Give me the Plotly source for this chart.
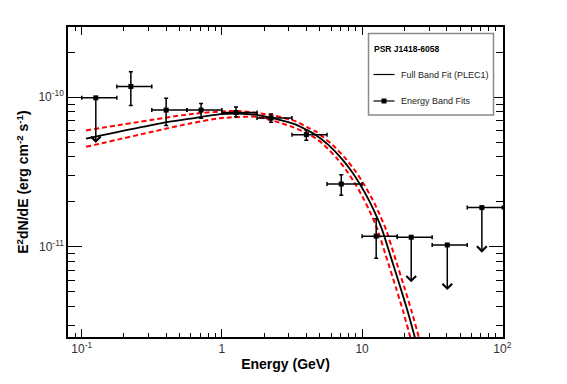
import numpy as np
import plotly.graph_objects as go

# ---------------- data ----------------
energy = [0.126, 0.224, 0.40, 0.71, 1.26, 2.24, 4.0, 7.1, 12.6, 22.4, 40.5, 71.5]
e_lo = [0.1, 0.178, 0.316, 0.562, 1.0, 1.78, 3.16, 5.62, 10.0, 17.8, 31.6, 56.2]
e_hi = [0.178, 0.316, 0.562, 1.0, 1.78, 3.16, 5.62, 10.0, 17.8, 31.6, 56.2, 100.0]
flux = [9.9e-11, 1.18e-10, 8.2e-11, 8.2e-11, 7.9e-11, 7.25e-11, 5.62e-11, 2.63e-11, 1.18e-11,
        1.16e-11, 1.03e-11, 1.83e-11]
flux_up = [None, 1.48e-10, 9.85e-11, 9.08e-11, 8.6e-11, 7.72e-11, 6.03e-11, 3.03e-11, 1.54e-11,
           None, None, None]
flux_dn = [None, 8.8e-11, 6.47e-11, 7.23e-11, 7.4e-11, 6.81e-11, 5.16e-11, 2.21e-11, 8.4e-12,
           None, None, None]
is_ul = [True, False, False, False, False, False, False, False, False, True, True, True]

fit_e = [0.1073, 0.4046, 0.5937, 0.9724, 1.280, 1.778, 2.337, 3.339, 4.047, 4.638, 5.773,
         7.197, 8.483, 9.725, 11.15, 12.45, 13.90, 15.93, 18.78, 21.18, 23.76, 24.63]
fit_f = [5.29e-11, 6.81e-11, 7.19e-11, 7.70e-11, 7.78e-11, 7.62e-11, 7.21e-11, 6.58e-11,
         6.03e-11, 5.62e-11, 4.79e-11, 3.86e-11, 3.16e-11, 2.59e-11, 2.06e-11, 1.66e-11,
         1.30e-11, 8.71e-12, 5.33e-12, 3.69e-12, 2.50e-12, 2.22e-12]

band_hi_e = [0.1073, 0.5937, 1.280, 2.337, 3.339, 4.047, 4.638, 6.166, 7.686, 9.062, 10.38,
             11.91, 13.29, 14.84, 17.01, 20.05, 22.61, 25.37, 26.30]
band_hi_f = [6.00e-11, 7.70e-11, 8.10e-11, 7.55e-11, 6.92e-11, 6.31e-11, 5.93e-11, 4.79e-11,
             3.86e-11, 3.16e-11, 2.59e-11, 2.06e-11, 1.66e-11, 1.30e-11, 8.71e-12, 5.33e-12,
             3.69e-12, 2.50e-12, 2.22e-12]

band_lo_e = [0.1073, 0.5937, 0.9724, 1.778, 3.075, 4.047, 4.638, 5.362, 6.683, 7.878, 9.031,
             10.35, 11.56, 12.90, 14.79, 17.43, 19.66, 22.06, 22.87]
band_lo_f = [4.66e-11, 6.68e-11, 7.24e-11, 7.39e-11, 6.41e-11, 5.73e-11, 5.33e-11, 4.79e-11,
             3.86e-11, 3.16e-11, 2.59e-11, 2.06e-11, 1.66e-11, 1.30e-11, 8.71e-12, 5.33e-12,
             3.69e-12, 2.50e-12, 2.22e-12]

x_tickvals = [0.1, 1, 10, 100]
x_ticktext = ["10<sup>-1</sup>", "1", "10", "10<sup>2</sup>"]
y_tickvals = [1e-11, 1e-10]
y_ticktext = ["10<sup>-11</sup>", "10<sup>-10</sup>"]

legend_title = "PSR J1418-6058"
legend_fit = "Full Band Fit (PLEC1)"
legend_pts = "Energy Band Fits"

FONT = "Liberation Sans, Arial, Helvetica, sans-serif"

# ---------------- figure ----------------
fig = go.Figure()

# confidence band (red dashed)
for be, bf in [(band_hi_e, band_hi_f), (band_lo_e, band_lo_f)]:
    fig.add_trace(go.Scatter(x=be, y=bf, mode="lines",
                             line=dict(color="#ff0000", width=2, dash="5px,3px",
                                       shape="spline", smoothing=0.6),
                             showlegend=False, hoverinfo="skip"))

# full band fit (black)
fig.add_trace(go.Scatter(x=fit_e, y=fit_f, mode="lines",
                         line=dict(color="black", width=1.8, shape="spline", smoothing=0.6),
                         showlegend=False, hoverinfo="skip"))

det = [i for i in range(len(energy)) if not is_ul[i]]
uls = [i for i in range(len(energy)) if is_ul[i]]

# detections
fig.add_trace(go.Scatter(
    x=[energy[i] for i in det], y=[flux[i] for i in det], mode="markers",
    marker=dict(symbol="square", size=5, color="black"),
    error_x=dict(type="data", symmetric=False,
                 array=[e_hi[i] - energy[i] for i in det],
                 arrayminus=[energy[i] - e_lo[i] for i in det],
                 color="black", thickness=1.5, width=2),
    error_y=dict(type="data", symmetric=False,
                 array=[flux_up[i] - flux[i] for i in det],
                 arrayminus=[flux[i] - flux_dn[i] for i in det],
                 color="black", thickness=1.5, width=2),
    showlegend=False))

# upper limits
fig.add_trace(go.Scatter(
    x=[energy[i] for i in uls], y=[flux[i] for i in uls], mode="markers",
    marker=dict(symbol="square", size=5, color="black"),
    error_x=dict(type="data", symmetric=False,
                 array=[e_hi[i] - energy[i] for i in uls],
                 arrayminus=[energy[i] - e_lo[i] for i in uls],
                 color="black", thickness=1.5, width=2),
    showlegend=False))

annotations = []
for i in uls:
    annotations.append(dict(
        x=np.log10(energy[i]), y=np.log10(flux[i] / 2.0),
        ax=np.log10(energy[i]), ay=np.log10(flux[i]),
        xref="x", yref="y", axref="x", ayref="y",
        showarrow=True, arrowhead=4, arrowsize=1.25, arrowwidth=1.5,
        arrowcolor="black", text=""))

# page offset (browser body margin) compensation
OFF = 8
W, H = 567 - OFF, 384 - OFF
# target plot-area edges in window pixels
X0, X1 = 68.0, 503.0
Y0, Y1 = 27.0, 337.0


def px(x):
    return (x - X0) / (X1 - X0)


def py(y):
    return (Y1 - y) / (Y1 - Y0)


shapes = [
    dict(type="rect", xref="paper", yref="paper",
         x0=px(368.5), x1=px(493.5), y0=py(115), y1=py(33.5),
         line=dict(color="#8a8a8a", width=1.5), fillcolor="white", layer="above"),
    dict(type="line", xref="paper", yref="paper",
         x0=px(373.5), x1=px(394.5), y0=py(74.5), y1=py(74.5),
         line=dict(color="black", width=1.2), layer="above"),
    dict(type="line", xref="paper", yref="paper",
         x0=px(373.5), x1=px(394.5), y0=py(101), y1=py(101),
         line=dict(color="black", width=1.2), layer="above"),
    dict(type="rect", xref="paper", yref="paper",
         xsizemode="pixel", ysizemode="pixel",
         xanchor=px(384), yanchor=py(101), x0=-2.5, x1=2.5, y0=-2.5, y1=2.5,
         line=dict(color="black", width=0), fillcolor="black", layer="above"),
]

annotations += [
    dict(xref="paper", yref="paper", x=px(371.5), y=py(49), xanchor="left", yanchor="middle",
         text="<b>" + legend_title + "</b>", showarrow=False,
         font=dict(family=FONT, size=8.5, color="black")),
    dict(xref="paper", yref="paper", x=px(398.5), y=py(74.5), xanchor="left", yanchor="middle",
         text=legend_fit, showarrow=False,
         font=dict(family=FONT, size=9, color="#222")),
    dict(xref="paper", yref="paper", x=px(398.5), y=py(101), xanchor="left", yanchor="middle",
         text=legend_pts, showarrow=False,
         font=dict(family=FONT, size=9, color="#222")),
]

x_minor = [0.08, 0.09] + [k * 0.1 for k in range(2, 10)] + [k for k in range(2, 10)] + \
          [k * 10 for k in range(2, 10)]
y_minor = [k * 1e-12 for k in range(2, 10)] + [k * 1e-11 for k in range(2, 10)] + \
          [k * 1e-10 for k in range(2, 10)]

fig.update_layout(
    width=W, height=H,
    margin=dict(l=int(X0) - OFF, r=W - (int(X1) - OFF), t=int(Y0) - OFF, b=H - (int(Y1) - OFF)),
    paper_bgcolor="white", plot_bgcolor="white",
    font=dict(family=FONT, color="black"),
    showlegend=False,
    shapes=shapes,
    annotations=annotations,
    xaxis=dict(
        type="log", range=[-1.098, 2.005],
        tickmode="array", tickvals=x_tickvals, ticktext=x_ticktext,
        ticks="inside", ticklen=8, tickwidth=1, tickcolor="black",
        minor=dict(tickmode="array", tickvals=x_minor, ticks="inside", ticklen=4,
                   tickwidth=1, tickcolor="black"),
        showline=True, linecolor="black", linewidth=1.5, mirror="allticks",
        showgrid=False, zeroline=False,
        tickfont=dict(family=FONT, size=12, color="#333"),
        title=dict(text="<b>Energy (GeV)</b>", font=dict(family=FONT, size=14, color="black"),
                   standoff=4),
    ),
    yaxis=dict(
        type="log", range=[-11.602, -9.531],
        tickmode="array", tickvals=y_tickvals, ticktext=y_ticktext,
        ticks="inside", ticklen=14, tickwidth=1, tickcolor="black",
        minor=dict(tickmode="array", tickvals=y_minor, ticks="inside", ticklen=7,
                   tickwidth=1, tickcolor="black"),
        showline=True, linecolor="black", linewidth=1.5, mirror="allticks",
        showgrid=False, zeroline=False,
        tickfont=dict(family=FONT, size=12, color="#333"),
        title=dict(text="<b>E<sup>2</sup>dN/dE (erg cm<sup>-2</sup> s<sup>-1</sup>)</b>",
                   font=dict(family=FONT, size=14, color="black"), standoff=6),
    ),
)

fig.write_html("out.html")
